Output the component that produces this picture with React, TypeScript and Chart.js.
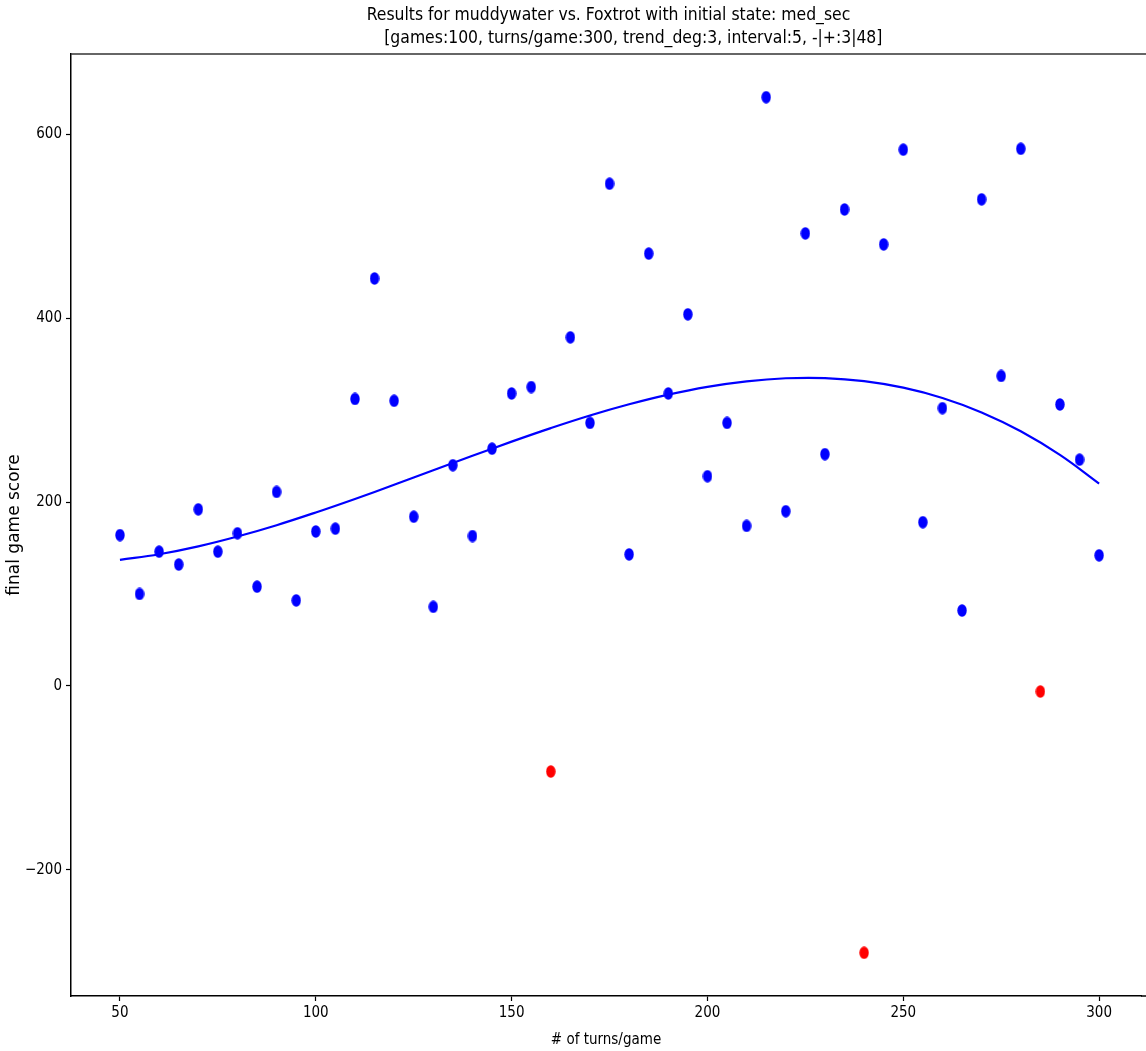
import React, { useEffect, useRef } from 'react';
import { Chart, registerables } from 'chart.js';

Chart.register(...registerables);

const turns = [50, 55, 60, 65, 70, 75, 80, 85, 90, 95, 100, 105, 110, 115, 120, 125, 130, 135, 140, 145, 150, 155, 160, 165, 170, 175, 180, 185, 190, 195, 200, 205, 210, 215, 220, 225, 230, 235, 240, 245, 250, 255, 260, 265, 270, 275, 280, 285, 290, 295, 300];
const scores = [164, 100, 146, 132, 192, 146, 166, 108, 211, 93, 168, 171, 312, 443, 310, 184, 86, 240, 163, 258, 318, 325, -93, 379, 286, 546, 143, 470, 318, 404, 228, 286, 174, 640, 190, 492, 252, 518, -290, 480, 583, 178, 302, 82, 529, 337, 584, -6, 306, 246, 142];

const trendTurns = [50, 60, 70, 80, 90, 100, 110, 120, 130, 140, 150, 160, 170, 180, 190, 200, 210, 220, 230, 240, 250, 260, 270, 280, 290, 300];
const trendScores = [137, 143.2, 151.8, 162.5, 174.8, 188.6, 203.3, 218.7, 234.5, 250.2, 265.6, 280.3, 294.0, 306.2, 316.7, 325.2, 331.2, 334.5, 334.7, 331.4, 324.3, 313.1, 297.4, 276.9, 251.2, 220.0];

const xTicks = [50, 100, 150, 200, 250, 300];
const yTicks = [-200, 0, 200, 400, 600];

const titleLines = [
  'Results for muddywater vs. Foxtrot with initial state: med_sec',
  '          [games:100, turns/game:300, trend_deg:3, interval:5, -|+:3|48]',
];
const xLabel = '# of turns/game';
const yLabel = 'final game score';

const BLUE = '#0000ff';
const RED = '#ff0000';
const COND = '"DejaVu Sans Condensed", "DejaVu Sans", sans-serif';

function ellipseImage(color: string): HTMLCanvasElement {
  const c = document.createElement('canvas');
  c.width = 10;
  c.height = 13;
  const g = c.getContext('2d')!;
  g.fillStyle = color;
  g.beginPath();
  g.ellipse(5, 6.5, 4.7, 6.2, 0, 0, Math.PI * 2);
  g.fill();
  return c;
}

export default function App() {
  const ref = useRef<HTMLCanvasElement | null>(null);

  useEffect(() => {
    document.body.style.margin = '0';
    const canvas = ref.current!;
    const blueImg = ellipseImage(BLUE);
    const redImg = ellipseImage(RED);

    const framePlugin = {
      id: 'frame',
      afterDatasetsDraw(chart: any) {
        const { ctx, chartArea } = chart;
        ctx.save();
        ctx.strokeStyle = '#333333';
        ctx.lineWidth = 1.5;
        ctx.beginPath();
        ctx.moveTo(chartArea.left, chartArea.top);
        ctx.lineTo(chart.width, chartArea.top);
        ctx.stroke();
        ctx.strokeStyle = '#000';
        ctx.beginPath();
        ctx.moveTo(chartArea.right, chartArea.bottom);
        ctx.lineTo(chart.width, chartArea.bottom);
        ctx.stroke();
        ctx.restore();
      },
      afterDraw(chart: any) {
        const { ctx, chartArea } = chart;
        const cx = (chartArea.left + chart.width) / 2;
        ctx.save();
        ctx.fillStyle = '#000';
        ctx.font = '17.4px ' + COND;
        ctx.textAlign = 'center';
        ctx.textBaseline = 'middle';
        titleLines.forEach((line, i) => {
          ctx.fillText(line, cx, 15.5 + i * 23);
        });
        ctx.restore();
      },
    };

    const chart = new Chart(canvas, {
      type: 'scatter',
      data: {
        datasets: [
          {
            label: 'trend',
            data: trendTurns.map((x, i) => ({ x, y: trendScores[i] })),
            showLine: true,
            borderColor: BLUE,
            backgroundColor: BLUE,
            borderWidth: 2.2,
            pointRadius: 0,
            tension: 0.4,
            order: 0,
          } as any,
          {
            label: 'scores',
            data: turns.map((x, i) => ({ x, y: scores[i] })),
            pointStyle: (ctx: any) => (ctx.raw && ctx.raw.y < 0 ? redImg : blueImg),
            pointRadius: 5,
            backgroundColor: (ctx: any) => (ctx.raw && ctx.raw.y < 0 ? RED : BLUE),
            borderWidth: 0,
            order: 1,
          } as any,
        ],
      },
      options: {
        animation: false,
        responsive: false,
        layout: { padding: { left: 0, right: 0, top: 54, bottom: 0 } },
        plugins: {
          legend: { display: false },
          tooltip: { enabled: false },
          title: { display: false },
        },
        scales: {
          x: {
            type: 'linear',
            min: 37.5,
            max: 310.7,
            afterBuildTicks: (axis: any) => {
              axis.ticks = xTicks.map((v) => ({ value: v }));
            },
            afterFit: (s: any) => {
              s.height = 55;
            },
            grid: {
              display: true,
              drawOnChartArea: false,
              drawTicks: true,
              tickLength: 5,
              tickWidth: 1.2,
              tickColor: '#000',
            },
            border: { display: true, color: '#000', width: 1.5 },
            ticks: {
              color: '#000',
              padding: 3,
              maxRotation: 0,
              font: { family: COND, size: 15 },
              callback: (v: any) => String(v),
            },
            title: {
              display: true,
              text: xLabel,
              color: '#000',
              font: { family: COND, size: 15 },
              padding: { top: 0, bottom: 2 },
            },
          },
          y: {
            type: 'linear',
            min: -337,
            max: 687,
            afterBuildTicks: (axis: any) => {
              axis.ticks = yTicks.map((v) => ({ value: v }));
            },
            afterFit: (s: any) => {
              s.width = 71;
            },
            grid: {
              display: true,
              drawOnChartArea: false,
              drawTicks: true,
              tickLength: 5,
              tickWidth: 1.2,
              tickColor: '#000',
            },
            border: { display: true, color: '#000', width: 1.5 },
            ticks: {
              color: '#000',
              padding: 4,
              font: { family: COND, size: 15 },
              callback: (v: any) => (v < 0 ? '\u2212' + Math.abs(v) : String(v)),
            },
            title: {
              display: true,
              text: yLabel,
              color: '#000',
              font: { family: '"DejaVu Sans", sans-serif', size: 17 },
              padding: { top: 4, bottom: 4 },
            },
          },
        },
      },
      plugins: [framePlugin],
    } as any);

    return () => chart.destroy();
  }, []);

  return <canvas ref={ref} width={1146} height={1051} style={{ display: 'block' }} />;
}
